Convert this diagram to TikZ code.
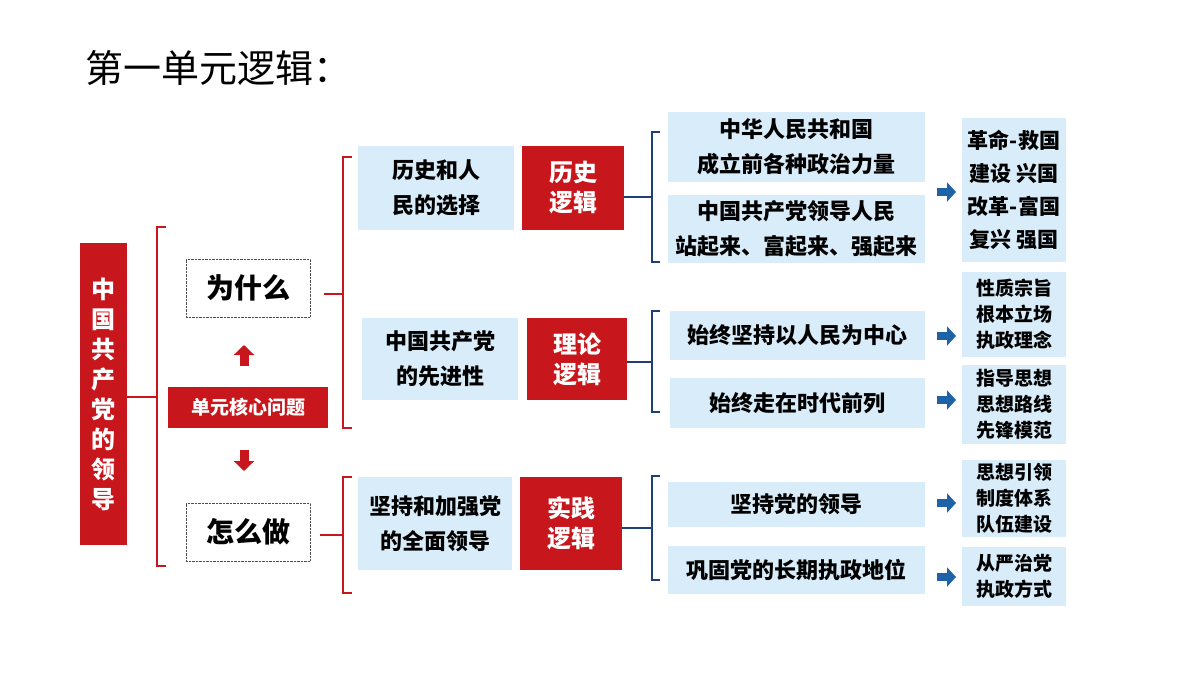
\documentclass[tikz,border=0pt]{standalone}
\usepackage{fontspec}
\setmainfont{Noto Sans CJK SC}
\usetikzlibrary{positioning,arrows.meta}
\definecolor{dangred}{HTML}{C8161D}
\definecolor{skyfill}{HTML}{D8EDF9}
\definecolor{navyline}{HTML}{1F3F7A}
\definecolor{arrowblue}{HTML}{1E63A8}
\tikzset{
  redbox/.style={fill=dangred,text=white,font=\fontsize{24}{30}\selectfont\bfseries,align=center,inner sep=0pt},
  bluebox/.style={fill=skyfill,font=\fontsize{22}{35}\selectfont\bfseries,align=center,inner sep=0pt},
  askbox/.style={draw=black!70,densely dotted,fill=white,font=\fontsize{28}{30}\selectfont\bfseries,inner sep=0pt},
  redbrace/.style={draw=dangred,line width=2.2pt},
  bluebrace/.style={draw=navyline,line width=2.2pt},
  bluearrow/.style={draw=arrowblue,line width=8pt,-{Triangle[width=19pt,length=9pt]}},
  redarrow/.style={draw=dangred,line width=9pt,-{Triangle[width=20pt,length=10pt]}},
}
\newcommand{\boxat}[6]{\node[#1,minimum width=#4-#2,minimum height=#5-#3] (#6) at ({(#2+#4)/2},{(#3+#5)/2})}
\begin{document}
\begin{tikzpicture}[x=1pt,y=-1pt]
\useasboundingbox (0,0) rectangle (1200,675);
\node[anchor=west,font=\fontsize{38}{40}\selectfont] (title) at (82,68) {第一单元逻辑：};
% left column
\boxat{redbox}{80}{243}{127}{545}{party} {中\\国\\共\\产\\党\\的\\领\\导};
\boxat{askbox}{186}{259}{310}{317}{why} {为什么};
\boxat{redbox,font=\fontsize{19}{22}\selectfont\bfseries}{168}{387}{328}{428}{core} {单元核心问题};
\boxat{askbox}{186}{503}{310}{561}{how} {怎么做};
\coordinate (upfoot) at (244,366);
\coordinate (downfoot) at (244,450);
\draw[redarrow] (upfoot) -- ++(0,-21);
\draw[redarrow] (downfoot) -- ++(0,21);
% middle column
\boxat{bluebox}{358}{146}{514}{230}{hist} {历史和人\\民的选择};
\boxat{redbox}{522}{146}{624}{230}{histlog} {历史\\逻辑};
\boxat{bluebox}{362}{318}{518}{400}{adv} {中国共产党\\的先进性};
\boxat{redbox}{527}{318}{627}{400}{theolog} {理论\\逻辑};
\boxat{bluebox}{358}{477}{512}{570}{lead} {坚持和加强党\\的全面领导};
\boxat{redbox}{520}{477}{622}{570}{praclog} {实践\\逻辑};
% right column
\boxat{bluebox}{668}{112}{925}{182}{prc} {中华人民共和国\\成立前各种政治力量};
\boxat{bluebox}{668}{195}{925}{263}{rise} {中国共产党领导人民\\站起来、富起来、强起来};
\boxat{bluebox}{670}{311}{925}{360}{people} {始终坚持以人民为中心};
\boxat{bluebox}{670}{378}{925}{428}{front} {始终走在时代前列};
\boxat{bluebox}{668}{482}{925}{527}{keep} {坚持党的领导};
\boxat{bluebox}{668}{546}{925}{594}{rule} {巩固党的长期执政地位};
\boxat{bluebox,font=\fontsize{21}{33}\selectfont\bfseries}{962}{118}{1066}{262}{eras} {革命-救国\\建设 兴国\\改革-富国\\复兴 强国};
\boxat{bluebox,font=\fontsize{19}{26}\selectfont\bfseries}{962}{272}{1066}{357}{nature} {性质宗旨\\根本立场\\执政理念};
\boxat{bluebox,font=\fontsize{19}{26}\selectfont\bfseries}{962}{365}{1066}{444}{guide} {指导思想\\思想路线\\先锋模范};
\boxat{bluebox,font=\fontsize{19}{26}\selectfont\bfseries}{962}{460}{1066}{537}{system} {思想引领\\制度体系\\队伍建设};
\boxat{bluebox,font=\fontsize{19}{26}\selectfont\bfseries}{962}{547}{1066}{606}{strict} {从严治党\\执政方式};
\foreach \y in {192,336,400,503,577}
  \draw[bluearrow] (937,\y) -- (956,\y);
% brackets
\coordinate (b1) at (157,397);
\draw[redbrace] (166,227) -- (157,227) -- (157,566) -- (166,566);
\draw[redbrace] (party.east|-b1) -- (b1);
\coordinate (b2) at (343,294);
\draw[redbrace] (352,157) -- (343,157) -- (343,428) -- (352,428);
\draw[redbrace] (why.east|-b2) ++(14,0) -- (b2);
\coordinate (b3) at (343,535);
\draw[redbrace] (352,477) -- (343,477) -- (343,593) -- (352,593);
\draw[redbrace] (how.east|-b3) ++(10,0) -- (b3);
\foreach \t/\b/\m/\s in {132/262/197/histlog,311/412/362/theolog,476/580/528/praclog}{
  \coordinate (bb) at (652,\m);
  \draw[bluebrace] (660,\t) -- (652,\t) -- (652,\b) -- (660,\b);
  \draw[bluebrace] (\s.east|-bb) -- (bb);
}
\end{tikzpicture}
\end{document}
